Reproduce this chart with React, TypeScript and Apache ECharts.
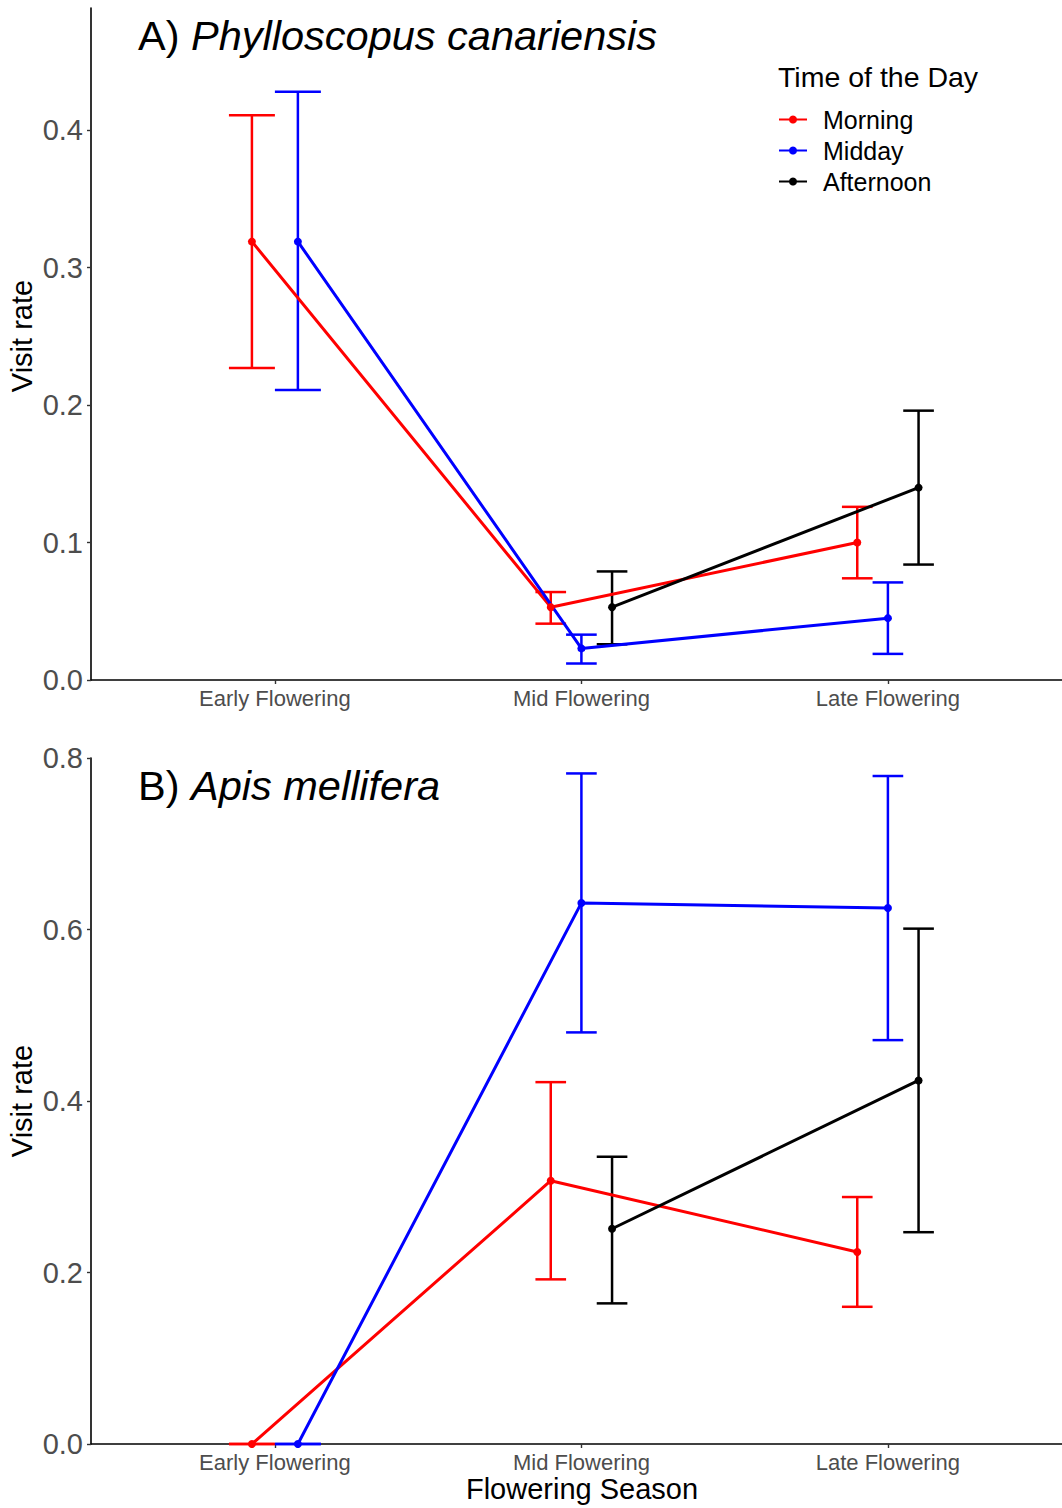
import React, { useEffect, useRef } from "react";
import * as echarts from "echarts";

const categories = ["Early Flowering", "Mid Flowering", "Late Flowering"];
const groups = ["Morning", "Midday", "Afternoon"];
const groupColors = ["#ff0000", "#0000ff", "#000000"];

// Panel A: Phylloscopus canariensis
const aMorningMean = [0.319, 0.053, 0.1];
const aMorningLo = [0.227, 0.041, 0.074];
const aMorningHi = [0.411, 0.064, 0.126];
const aMiddayMean = [0.319, 0.023, 0.045];
const aMiddayLo = [0.211, 0.012, 0.019];
const aMiddayHi = [0.428, 0.033, 0.071];
const aAfternoonMean = [null, 0.053, 0.14];
const aAfternoonLo = [null, 0.026, 0.084];
const aAfternoonHi = [null, 0.079, 0.196];

// Panel B: Apis mellifera
const bMorningMean = [0, 0.307, 0.224];
const bMorningLo = [0, 0.192, 0.16];
const bMorningHi = [0, 0.422, 0.288];
const bMiddayMean = [0, 0.631, 0.625];
const bMiddayLo = [0, 0.48, 0.471];
const bMiddayHi = [0, 0.782, 0.779];
const bAfternoonMean = [null, 0.251, 0.424];
const bAfternoonLo = [null, 0.164, 0.247];
const bAfternoonHi = [null, 0.335, 0.601];

const yTicksA = [0, 0.1, 0.2, 0.3, 0.4];
const yTicksB = [0, 0.2, 0.4, 0.6, 0.8];
const xTicks = [1, 2, 3];

const FONT = "Liberation Sans, Arial, Helvetica, sans-serif";
const DODGE = 0.3;

type Arr = (number | null)[];

function buildPanel(
  gridIndex: number,
  means: Arr[],
  los: Arr[],
  his: Arr[]
) {
  const series: any[] = [];
  const errSeries: any[] = [];
  groups.forEach((g, gi) => {
    const lineData: number[][] = [];
    const errData: number[][] = [];
    categories.forEach((_, ci) => {
      const m = means[gi][ci];
      if (m === null || m === undefined) return;
      const present = groups
        .map((__, k) => k)
        .filter((k) => means[k][ci] !== null && means[k][ci] !== undefined);
      const n = present.length;
      const slot = DODGE / n;
      const idx = present.indexOf(gi);
      const x = ci + 1 - DODGE / 2 + slot * (idx + 0.5);
      lineData.push([x, m]);
      errData.push([x, los[gi][ci] as number, his[gi][ci] as number, slot / 2]);
    });
    series.push({
      type: "line",
      name: g,
      xAxisIndex: gridIndex,
      yAxisIndex: gridIndex,
      data: lineData,
      symbol: "circle",
      symbolSize: 8,
      clip: false,
      z: 3,
      lineStyle: { color: groupColors[gi], width: 3 },
      itemStyle: { color: groupColors[gi] },
    });
    errSeries.push({
      type: "custom",
      name: g + " error",
      xAxisIndex: gridIndex,
      yAxisIndex: gridIndex,
      data: errData,
      clip: false,
      z: 2,
      renderItem: (params: any, api: any) => {
        const x = api.value(0);
        const lo = api.value(1);
        const hi = api.value(2);
        const h = api.value(3);
        const pLo = api.coord([x, lo]);
        const pHi = api.coord([x, hi]);
        const lL = api.coord([x - h, lo]);
        const lR = api.coord([x + h, lo]);
        const hL = api.coord([x - h, hi]);
        const hR = api.coord([x + h, hi]);
        const style = { stroke: groupColors[gi], lineWidth: 2.5 };
        return {
          type: "group",
          children: [
            { type: "line", shape: { x1: pLo[0], y1: pLo[1], x2: pHi[0], y2: pHi[1] }, style },
            { type: "line", shape: { x1: lL[0], y1: lL[1], x2: lR[0], y2: lR[1] }, style },
            { type: "line", shape: { x1: hL[0], y1: hL[1], x2: hR[0], y2: hR[1] }, style },
          ],
        };
      },
    });
  });
  return [...series, ...errSeries];
}

function xAxisFor(gridIndex: number) {
  return {
    gridIndex,
    type: "value",
    min: 0.4,
    max: 3.568,
    splitLine: { show: false },
    axisLine: { onZero: false, lineStyle: { color: "#000", width: 1.6 } },
    axisTick: { customValues: xTicks, length: 4, lineStyle: { color: "#333", width: 1.4 } },
    axisLabel: {
      customValues: xTicks,
      formatter: (v: number) => categories[Math.round(v) - 1] || "",
      fontSize: 22,
      fontFamily: FONT,
      color: "#4d4d4d",
      margin: 7,
    },
  };
}

function yAxisFor(gridIndex: number, max: number, interval: number, ticks: number[]) {
  return {
    gridIndex,
    type: "value",
    min: 0,
    max,
    interval,
    splitLine: { show: false },
    axisLine: { show: true, onZero: false, lineStyle: { color: "#000", width: 1.6 } },
    axisTick: { show: true, customValues: ticks, length: 4, lineStyle: { color: "#333", width: 1.4 } },
    axisLabel: {
      customValues: ticks,
      formatter: (v: number) => v.toFixed(1),
      fontSize: 29,
      fontFamily: FONT,
      color: "#4d4d4d",
      margin: 8,
    },
  };
}

export default function App() {
  const ref = useRef<HTMLDivElement>(null);
  useEffect(() => {
    document.body.style.margin = "0";
    if (!ref.current) return;
    const chart = echarts.init(ref.current, undefined, { renderer: "svg" });
    const seriesA = buildPanel(
      0,
      [aMorningMean, aMiddayMean, aAfternoonMean],
      [aMorningLo, aMiddayLo, aAfternoonLo],
      [aMorningHi, aMiddayHi, aAfternoonHi]
    );
    const seriesB = buildPanel(
      1,
      [bMorningMean, bMiddayMean, bAfternoonMean],
      [bMorningLo, bMiddayLo, bAfternoonLo],
      [bMorningHi, bMiddayHi, bAfternoonHi]
    );
    const titleRich = {
      a: { fontSize: 41.5, fontFamily: FONT, fill: "#000" },
      b: { fontSize: 41.5, fontFamily: FONT, fontStyle: "italic", fill: "#000" },
    };
    chart.setOption({
      animation: false,
      backgroundColor: "#ffffff",
      textStyle: { fontFamily: FONT },
      grid: [
        { left: 91, top: 8, width: 971, height: 672 },
        { left: 91, top: 758, width: 971, height: 686 },
      ],
      xAxis: [xAxisFor(0), xAxisFor(1)],
      yAxis: [yAxisFor(0, 0.489, 0.1, yTicksA), yAxisFor(1, 0.8, 0.2, yTicksB)],
      legend: {
        data: groups,
        orient: "vertical",
        left: 778,
        top: 107,
        padding: 0,
        itemWidth: 28,
        itemHeight: 10,
        itemGap: 6,
        textStyle: { fontSize: 25, fontFamily: FONT, color: "#000", padding: [0, 0, 0, 11] },
        selectedMode: false,
      },
      graphic: [
        {
          type: "text",
          x: 138,
          y: 35,
          style: {
            text: "{a|A) }{b|Phylloscopus canariensis}",
            verticalAlign: "middle",
            rich: titleRich,
          },
        },
        {
          type: "text",
          x: 138,
          y: 785,
          style: {
            text: "{a|B) }{b|Apis mellifera}",
            verticalAlign: "middle",
            rich: titleRich,
          },
        },
        {
          type: "text",
          x: 778,
          y: 77,
          style: {
            text: "Time of the Day",
            font: `28.5px ${FONT}`,
            fill: "#000",
            verticalAlign: "middle",
          },
        },
        {
          type: "text",
          x: 22,
          y: 336,
          rotation: Math.PI / 2,
          style: {
            text: "Visit rate",
            font: `29px ${FONT}`,
            fill: "#000",
            align: "center",
            verticalAlign: "middle",
          },
        },
        {
          type: "text",
          x: 22,
          y: 1101,
          rotation: Math.PI / 2,
          style: {
            text: "Visit rate",
            font: `29px ${FONT}`,
            fill: "#000",
            align: "center",
            verticalAlign: "middle",
          },
        },
        {
          type: "text",
          x: 582,
          y: 1489,
          style: {
            text: "Flowering Season",
            font: `29px ${FONT}`,
            fill: "#000",
            align: "center",
            verticalAlign: "middle",
          },
        },
      ],
      series: [...seriesA, ...seriesB],
    });
    return () => chart.dispose();
  }, []);
  return <div ref={ref} style={{ width: 1062, height: 1508 }} />;
}
